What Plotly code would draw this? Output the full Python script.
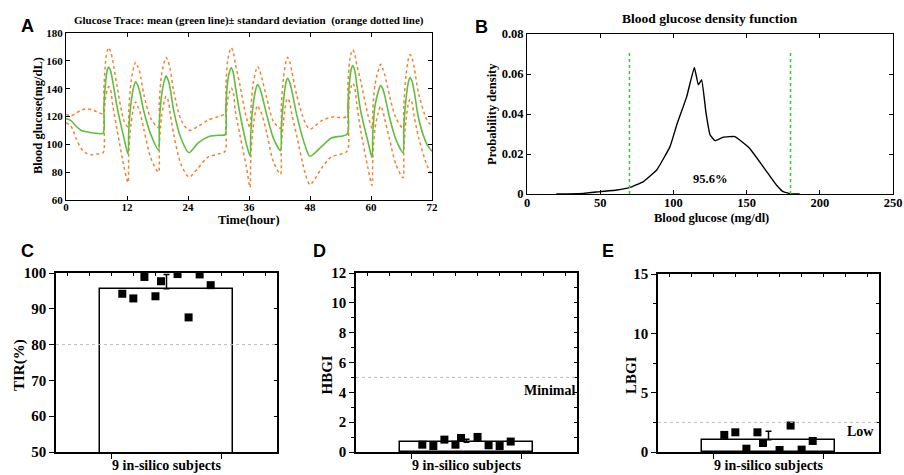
import plotly.graph_objects as go

# ---------------- data ----------------
# Panel A: glucose trace (hours, mean, mean+SD, mean-SD)
hours = [0, 1, 2, 3, 4, 5, 6, 7.3, 7.45, 7.8, 8.1, 8.4, 8.8, 9.2, 10.1, 11.4, 12.2,
         12.35, 12.8, 13.4, 13.7, 14.1, 14.5, 15.3, 16.7, 18.2,
         18.35, 18.8, 19.4, 19.7, 20.1, 20.5, 21.2, 22.6, 24.2, 26, 28, 30, 31.3,
         31.45, 31.8, 32.2, 32.5, 32.9, 33.3, 34.2, 35.5, 36.2,
         36.35, 36.8, 37.4, 37.7, 38.1, 38.5, 39.5, 40.8, 42.2,
         42.35, 42.8, 43.3, 43.6, 44.0, 44.4, 45.4, 47, 48, 50.3, 52.2, 55.3,
         55.45, 55.8, 56.1, 56.4, 56.8, 57.2, 58, 59.4, 60.2,
         60.35, 60.8, 61.6, 61.9, 62.3, 62.7, 63.6, 64.9, 66.3,
         66.45, 66.9, 67.4, 67.7, 68.1, 68.5, 69.4, 71, 72]
mean_bg = [118.5, 117, 113, 110, 109, 108.3, 108, 108, 127, 145, 153, 155.5, 152.5, 145, 126, 104.5, 93,
           110, 130, 142.5, 145, 142.5, 138, 124, 107, 96,
           115, 135, 146.5, 149, 146, 140, 124, 104.5, 94, 101, 105.5, 106.5, 107,
           127, 145, 152.5, 155, 151.5, 142, 122.5, 100, 91.5,
           108, 128, 140.5, 143, 140.5, 136, 121, 104.5, 95.5,
           112, 132, 145, 147.5, 144.5, 139, 121, 99.5, 91.5, 98.5, 104.5, 107.5,
           128, 146, 154, 156.5, 153, 143, 123.5, 102, 90.5,
           108, 128, 140, 142.5, 140, 135, 120, 103.5, 94,
           112, 133, 145.5, 148, 145, 138, 118, 100, 95]
upper_bg = [121.5, 120.5, 122.5, 124.5, 125.5, 125, 123.5, 122, 140, 160, 167, 169.5, 166.5, 160, 140.5, 117, 112.5,
            125, 145, 156.5, 159, 156, 152, 136, 118.5, 112,
            130, 150, 160, 162.5, 159.5, 154, 138, 118, 110, 113, 117.5, 120, 122,
            142, 160, 167, 169.5, 166.5, 158, 143, 119, 112,
            124, 143, 153.5, 156, 153, 148, 133, 116.5, 111.5,
            128, 148, 160, 162.5, 159.5, 153, 135, 116, 111, 117, 119.5, 120,
            142, 160, 165.5, 168, 165, 157, 145, 121, 111.5,
            124, 143, 155, 157.5, 154.5, 150, 135.5, 119, 111.5,
            128, 150, 162, 164.5, 161.5, 155, 136, 117.5, 113]
lower_bg = [115.5, 113, 104, 97, 93.5, 92.5, 93, 94, 118, 134, 139, 141.5, 138.5, 128, 109.5, 84, 72.5,
            95, 115, 128, 130.5, 127.5, 124, 111, 90, 80,
            100, 120, 132, 134.5, 131.5, 122, 107, 86, 76.5, 83, 91, 93, 95,
            115, 132, 138, 140.5, 137.5, 124, 107, 83.5, 69,
            90, 112, 125.5, 128, 125, 122, 108, 87.5, 78.5,
            97, 117, 130.5, 133, 130, 122, 106, 80, 71, 83, 91, 95,
            120, 136, 141.5, 144, 141, 129, 109.5, 83, 70.5,
            90, 112, 125, 127.5, 124.5, 118, 104.5, 85.5, 76,
            96, 118, 130, 132.5, 129.5, 120, 104.5, 85, 78]

# Panel B: density
bg_levels = [20, 38.6, 50, 61.4, 70.4, 79.5, 88.6, 97.7, 102.3, 109.1, 114.3, 117, 119.3, 122.3,
             125, 128.4, 134, 142, 152, 161.3, 170.5, 175, 180.5, 186.3]
density = [0, 0.0003, 0.0012, 0.002, 0.0033, 0.0062, 0.012, 0.0237, 0.0346, 0.0487, 0.0633,
           0.0546, 0.0571, 0.0404, 0.0296, 0.0267, 0.0284, 0.0287, 0.0229, 0.0137, 0.0044,
           0.0012, 0, 0]
target_range = [70, 180]
tir_label = "95.6%"

# Panels C-E: 9 in-silico subjects
category = "9 in-silico subjects"
jitter = [-0.40, -0.30, -0.20, -0.10, -0.05, 0.10, 0.20, 0.30, 0.40]
tir = [94.2, 92.9, 98.9, 93.5, 97.7, 99.7, 87.6, 99.6, 96.6]
tir_mean, tir_sd = 95.6, 4.0
hbgi = [0.49, 0.40, 0.83, 0.49, 0.94, 1.01, 0.45, 0.40, 0.70]
hbgi_mean, hbgi_sd = 0.65, 0.2
lbgi = [1.44, 1.66, 0.28, 1.66, 0.76, 0.17, 2.23, 0.20, 0.93]
lbgi_mean, lbgi_sd = 1.03, 0.72
ref_tir, ref_hbgi, ref_lbgi = 80, 5, 2.5

assert len(hours) == len(mean_bg) == len(upper_bg) == len(lower_bg)

# ---------------- layout helpers ----------------
W, H = 904, 475
SERIF = "Liberation Serif"
SANS = "Liberation Sans"


def xd(a, b):
    return [a / W, b / W]


def yd(top, bottom):
    return [1 - bottom / H, 1 - top / H]


def px(x):
    return x / W


def py(y):
    return 1 - y / H


fig = go.Figure()

ORANGE = "#F0822E"
GREEN = "#62BD3E"

# Panel A
for series in (upper_bg, lower_bg):
    fig.add_trace(go.Scatter(x=hours, y=series, mode="lines", xaxis="x", yaxis="y",
                             line=dict(color=ORANGE, width=1.5, dash="dot", shape="spline",
                                       smoothing=0.8)))
fig.add_trace(go.Scatter(x=hours, y=mean_bg, mode="lines", xaxis="x", yaxis="y",
                         line=dict(color=GREEN, width=1.6, shape="spline", smoothing=0.8)))

# Panel B
fig.add_trace(go.Scatter(x=bg_levels, y=density, mode="lines", xaxis="x2", yaxis="y2",
                         line=dict(color="black", width=1.4, shape="spline", smoothing=0.3)))

# Panels C-E
panels = [("3", tir, tir_mean, tir_sd, ref_tir),
          ("4", hbgi, hbgi_mean, hbgi_sd, ref_hbgi),
          ("5", lbgi, lbgi_mean, lbgi_sd, ref_lbgi)]
for n, vals, m, sd, ref in panels:
    fig.add_trace(go.Bar(x=[0], y=[m], width=1.2, xaxis="x" + n, yaxis="y" + n,
                         marker=dict(color="white", line=dict(color="black", width=1.5)),
                         error_y=dict(type="data", array=[sd], arrayminus=[0], symmetric=False,
                                      color="black", thickness=1.5, width=3)))
    fig.add_trace(go.Scatter(x=jitter, y=vals, mode="markers", xaxis="x" + n, yaxis="y" + n,
                             marker=dict(symbol="square", size=8, color="black")))
    # dummy trace for overlay tick axes (top / right frame ticks)
    fig.add_trace(go.Scatter(x=[None], y=[None], mode="markers", xaxis="x" + str(int(n) + 3),
                             yaxis="y" + str(int(n) + 3), showlegend=False, hoverinfo="skip"))
    fig.add_shape(type="line", xref="x" + n + " domain", yref="y" + n, x0=0, x1=1, y0=ref, y1=ref,
                  line=dict(color="#BBBBBB", width=1, dash="dot"))

# Panel B target lines
for v in target_range:
    fig.add_shape(type="line", xref="x2", yref="y2", x0=v, x1=v, y0=0, y1=0.0705,
                  line=dict(color="#2ECC2E", width=1.5, dash="dot"))

tf = dict(family=SERIF, size=11, color="black", weight="bold")
matlab_ax = dict(showline=True, linecolor="black", linewidth=1, mirror="ticks", ticks="inside",
                 ticklen=4, tickcolor="black", showgrid=False, zeroline=False, tickfont=tf,
                 automargin=False)

layout = dict(
    width=W, height=H, autosize=False, margin=dict(l=0, r=0, t=0, b=0, autoexpand=False),
    paper_bgcolor="white", plot_bgcolor="white", showlegend=False, bargap=0,
    xaxis=dict(matlab_ax, domain=xd(66, 432), range=[0, 72], tickvals=[0, 12, 24, 36, 48, 60, 72],
               anchor="y", ticklabelstandoff=-3),
    yaxis=dict(matlab_ax, domain=yd(33, 200), range=[60, 180], dtick=20, anchor="x"),
    xaxis2=dict(matlab_ax, domain=xd(527, 893), range=[0, 250], dtick=50, anchor="y2",
                tickfont=dict(tf, size=12.5), ticklabelstandoff=-3),
    yaxis2=dict(matlab_ax, domain=yd(34, 194), range=[0, 0.08], dtick=0.02, anchor="x2",
                tickformat="~g", tickfont=dict(tf, size=12.5)),
)

bf = dict(family=SERIF, size=15, color="black", weight="bold")
bottom = {"3": (56, 277, 273, [50, 100], 10, None, 10),
          "4": (356, 577, 273, [0, 12], 2, 1, 1),
          "5": (658, 879, 274, [0, 15], 5, 2.5, 2.5)}
for n, (l, r, t, yr, dt, mdt, rdt) in bottom.items():
    o = str(int(n) + 3)
    layout["xaxis" + n] = dict(domain=xd(l, r), range=[-1, 1], anchor="y" + n, showline=True,
                               linecolor="black", linewidth=1.5, showgrid=False, zeroline=False,
                               tickvals=[0], ticktext=[category], ticks="", automargin=False,
                               tickfont=dict(bf, size=14), ticklabelstandoff=-1,
                               minor=dict(tickvals=[-0.5, 0.5], ticks="outside", ticklen=5,
                                          tickcolor="black", tickwidth=1.2))
    ya = dict(domain=yd(t, 452), range=yr, anchor="x" + n, showline=True, linecolor="black",
              linewidth=1.5, showgrid=False, zeroline=False, dtick=dt, ticks="outside",
              ticklen=5, tickwidth=1.2, tickcolor="black", tickfont=bf, automargin=False)
    if mdt:
        ya["minor"] = dict(dtick=mdt, ticks="outside", ticklen=3, tickcolor="black", tickwidth=1.2)
    layout["yaxis" + n] = ya
    layout["xaxis" + o] = dict(overlaying="x" + n, side="top", anchor="y" + o, range=[-1, 1],
                               showline=True, linecolor="black", linewidth=1.5,
                               tickvals=[-0.9, -0.7, -0.5, -0.3, -0.1, 0.1, 0.3, 0.5, 0.7, 0.9],
                               ticks="inside", ticklen=3, tickwidth=1.2, tickcolor="black",
                               showticklabels=False, showgrid=False, zeroline=False,
                               automargin=False)
    layout["yaxis" + o] = dict(overlaying="y" + n, side="right", anchor="x" + o, range=yr,
                               showline=True, linecolor="black", linewidth=1.5, dtick=rdt,
                               ticks="inside", ticklen=3, tickwidth=1.2, tickcolor="black",
                               showticklabels=False, showgrid=False, zeroline=False,
                               automargin=False)

fig.update_layout(**layout)


def ann(text, x, y, size, family=SERIF, angle=0, xanchor="center", yanchor="middle"):
    fig.add_annotation(text=text, x=px(x), y=py(y), xref="paper", yref="paper", showarrow=False,
                       textangle=angle, xanchor=xanchor, yanchor=yanchor,
                       font=dict(family=family, size=size, color="black", weight="bold"))


ann("A", 27.5, 26, 18, SANS)
ann("B", 481.5, 27, 18, SANS)
ann("C", 27, 251, 18, SANS)
ann("D", 319, 251, 18, SANS)
ann("E", 607.5, 251, 18, SANS)
ann("Glucose Trace: mean (green line)± standard deviation  (orange dotted line)", 249, 20.5, 11)
ann("Blood glucose density function", 710, 18.5, 13.5)
ann("Time(hour)", 249, 220, 12.5)
ann("Blood glucose(mg/dL)", 38, 116, 12.5, angle=-90)
ann("Blood glucose (mg/dl)", 711, 218, 12.5)
ann("Probability density", 492, 114, 12.5, angle=-90)
ann("TIR(%)", 19, 365, 15, angle=-90)
ann("HBGI", 326.5, 375, 15, angle=-90)
ann("LBGI", 631, 375, 15, angle=-90)

fig.add_annotation(text=tir_label, x=125, y=0.0075, xref="x2", yref="y2", showarrow=False,
                   font=dict(family=SERIF, size=12.5, color="black", weight="bold"))
fig.add_annotation(text="Minimal", x=1.0, y=4.15, xref="x4 domain", yref="y4", showarrow=False,
                   xanchor="right", font=dict(family=SERIF, size=14, color="black", weight="bold"))
fig.add_annotation(text="Low", x=0.985, y=1.7, xref="x5 domain", yref="y5", showarrow=False,
                   xanchor="right", font=dict(family=SERIF, size=14, color="black", weight="bold"))

fig.write_html("out.html", config={"displayModeBar": False},
               post_script="document.body.style.margin='0px';document.body.style.overflow='hidden';")
